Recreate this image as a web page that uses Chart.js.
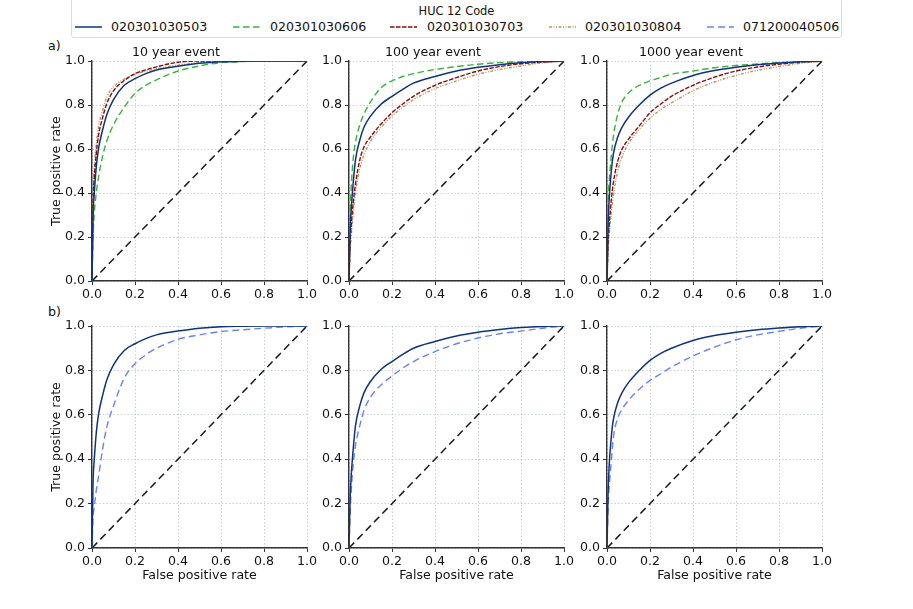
<!DOCTYPE html>
<html>
<head>
<meta charset="utf-8">
<script src="https://cdn.jsdelivr.net/npm/chart.js@4.4.1/dist/chart.umd.min.js"></script>
<style>
  html, body { margin: 0; padding: 0; background: #fff; }
  body { width: 913px; height: 609px; position: relative; overflow: hidden; font-family: "DejaVu Sans", sans-serif; color: #111; }
  canvas { position: absolute; }
  .lbl { position: absolute; font-size: 12.6px; white-space: nowrap; line-height: 1; }
  #legend { position: absolute; left: 71px; top: -2px; width: 771px; height: 40px; border: 1px solid #dcdcdc; border-radius: 3px; box-sizing: border-box; }
  .sample { position: absolute; }
</style>
</head>
<body>
<div id="legend"></div>
<div class="lbl" style="left:48px;top:40px;">a)</div>
<div class="lbl" style="left:48px;top:306px;">b)</div>

<canvas id="c0"></canvas><canvas id="c1"></canvas><canvas id="c2"></canvas>
<canvas id="c3"></canvas><canvas id="c4"></canvas><canvas id="c5"></canvas>

<script>
// ---------- data ----------
const fprGrid = [0, 0.005, 0.01, 0.02, 0.03, 0.05, 0.07, 0.1, 0.15, 0.2, 0.25, 0.3, 0.4, 0.5, 0.6, 0.7, 0.8, 0.9, 1.0];
const chanceLine = [0, 1];

const hucCodes = ["020301030503", "020301030606", "020301030703", "020301030804", "071200040506"];
const events = ["10 year event", "100 year event", "1000 year event"];
const tickValues = [0, 0.2, 0.4, 0.6, 0.8, 1.0];

// 10 year event
const tpr10_503 = [0, 0.30, 0.39, 0.52, 0.60, 0.69, 0.76, 0.825, 0.89, 0.92, 0.943, 0.96, 0.977, 0.99, 0.997, 0.999, 1, 1, 1];
const tpr10_606 = [0, 0.20, 0.30, 0.40, 0.47, 0.57, 0.64, 0.71, 0.79, 0.853, 0.89, 0.915, 0.955, 0.978, 0.993, 0.998, 1, 1, 1];
const tpr10_703 = [0, 0.35, 0.46, 0.58, 0.66, 0.745, 0.81, 0.865, 0.912, 0.943, 0.96, 0.974, 0.995, 1, 1, 1, 1, 1, 1];
const tpr10_804 = [0, 0.38, 0.50, 0.62, 0.70, 0.777, 0.84, 0.883, 0.918, 0.94, 0.955, 0.965, 0.982, 0.993, 0.998, 1, 1, 1, 1];
const tpr10_506 = [0, 0.14, 0.18, 0.26, 0.32, 0.45, 0.55, 0.64, 0.765, 0.83, 0.87, 0.90, 0.94, 0.96, 0.975, 0.983, 0.99, 0.996, 1];

// 100 year event
const tpr100_503 = [0, 0.22, 0.32, 0.45, 0.55, 0.64, 0.70, 0.75, 0.805, 0.84, 0.872, 0.90, 0.93, 0.955, 0.972, 0.984, 0.993, 0.998, 1];
const tpr100_606 = [0, 0.30, 0.42, 0.56, 0.63, 0.71, 0.76, 0.815, 0.88, 0.91, 0.93, 0.943, 0.962, 0.975, 0.986, 0.993, 0.997, 0.999, 1];
const tpr100_703 = [0, 0.17, 0.25, 0.36, 0.44, 0.55, 0.61, 0.655, 0.715, 0.765, 0.805, 0.84, 0.89, 0.925, 0.955, 0.975, 0.988, 0.996, 1];
const tpr100_804 = [0, 0.13, 0.20, 0.31, 0.40, 0.51, 0.575, 0.635, 0.70, 0.75, 0.79, 0.825, 0.875, 0.91, 0.94, 0.962, 0.978, 0.992, 1];
const tpr100_506 = [0, 0.15, 0.25, 0.38, 0.46, 0.55, 0.62, 0.68, 0.735, 0.775, 0.81, 0.84, 0.885, 0.92, 0.946, 0.965, 0.977, 0.99, 1];

// 1000 year event
const tpr1000_503 = [0, 0.25, 0.37, 0.50, 0.58, 0.655, 0.70, 0.745, 0.80, 0.845, 0.877, 0.90, 0.935, 0.957, 0.972, 0.983, 0.991, 0.997, 1];
const tpr1000_606 = [0, 0.35, 0.45, 0.57, 0.66, 0.76, 0.815, 0.855, 0.89, 0.91, 0.925, 0.94, 0.955, 0.97, 0.98, 0.987, 0.993, 0.997, 1];
const tpr1000_703 = [0, 0.17, 0.25, 0.37, 0.45, 0.545, 0.60, 0.645, 0.705, 0.765, 0.805, 0.84, 0.89, 0.927, 0.955, 0.973, 0.986, 0.995, 1];
const tpr1000_804 = [0, 0.14, 0.21, 0.31, 0.39, 0.50, 0.565, 0.625, 0.69, 0.74, 0.78, 0.81, 0.865, 0.905, 0.935, 0.958, 0.975, 0.99, 1];
const tpr1000_506 = [0, 0.18, 0.27, 0.39, 0.50, 0.585, 0.625, 0.665, 0.715, 0.755, 0.785, 0.815, 0.865, 0.905, 0.938, 0.96, 0.976, 0.99, 1];

// ---------- styles ----------
const seriesStyle = {
  "020301030503": { color: "#10337f", dash: [], width: 1.5 },
  "020301030606": { color: "#3cb23c", dash: [6.5, 3.5], width: 1.4 },
  "020301030703": { color: "#8b0d0d", dash: [4.5, 1.5], width: 1.4 },
  "020301030804": { color: "#b39a60", dash: [3, 1.5, 1, 1.5, 1, 1.5], width: 1.4 },
  "071200040506": { color: "#6a82f5", dash: [7, 4], width: 1.4 }
};

const FONT = { family: "'DejaVu Sans', sans-serif", size: 12.6 };

// ---------- legend (HTML) ----------
(function buildLegend() {
  const lg = document.getElementById('legend');
  const t = document.createElement('div');
  t.className = 'lbl';
  t.style.cssText = 'font-size:11.4px;left:0;width:100%;text-align:center;top:7px;';
  t.textContent = 'HUC 12 Code';
  lg.appendChild(t);
  const sampleX = [3, 161, 318, 477, 635];
  const labelX = [39, 198, 355, 513, 671];
  hucCodes.forEach((code, i) => {
    const st = seriesStyle[code];
    const svg = document.createElementNS('http://www.w3.org/2000/svg', 'svg');
    svg.setAttribute('class', 'sample');
    svg.setAttribute('width', '27'); svg.setAttribute('height', '6');
    svg.style.left = sampleX[i] + 'px'; svg.style.top = '25px';
    const ln = document.createElementNS('http://www.w3.org/2000/svg', 'line');
    ln.setAttribute('x1', '0'); ln.setAttribute('x2', '27');
    ln.setAttribute('y1', '3'); ln.setAttribute('y2', '3');
    ln.setAttribute('stroke', st.color);
    ln.setAttribute('stroke-width', st.width);
    if (st.dash.length) ln.setAttribute('stroke-dasharray', st.dash.join(' '));
    svg.appendChild(ln);
    lg.appendChild(svg);
    const l = document.createElement('div');
    l.className = 'lbl';
    l.style.left = labelX[i] + 'px'; l.style.top = '22px';
    l.textContent = code;
    lg.appendChild(l);
  });
})();

// ---------- charts ----------
function pts(xs, ys) { return xs.map((x, i) => ({ x: x, y: ys[i] })); }

function rocDataset(code, tpr) {
  const st = seriesStyle[code];
  return {
    label: code,
    data: pts(fprGrid, tpr),
    borderColor: st.color,
    borderWidth: st.width,
    borderDash: st.dash,
    pointRadius: 0,
    fill: false,
    cubicInterpolationMode: 'monotone'
  };
}

function chanceDataset() {
  return {
    label: 'chance',
    data: pts(chanceLine, chanceLine),
    borderColor: '#1a1a1a',
    borderWidth: 1.5,
    borderDash: [7.5, 4.5],
    pointRadius: 0,
    fill: false
  };
}

const colLeft = [45, 302, 560];
const CW = 276, YAXW = 47, PADR = 14;
const rowGeom = [
  { top: 41, height: 263, xAxisH: 23, padTop: 0 },
  { top: 314, height: 273, xAxisH: 39, padTop: 12 }
];

const panels = [
  { row: 0, col: 0, title: events[0], sets: [["020301030503", tpr10_503], ["020301030606", tpr10_606], ["020301030703", tpr10_703], ["020301030804", tpr10_804]] },
  { row: 0, col: 1, title: events[1], sets: [["020301030503", tpr100_503], ["020301030606", tpr100_606], ["020301030703", tpr100_703], ["020301030804", tpr100_804]] },
  { row: 0, col: 2, title: events[2], sets: [["020301030503", tpr1000_503], ["020301030606", tpr1000_606], ["020301030703", tpr1000_703], ["020301030804", tpr1000_804]] },
  { row: 1, col: 0, title: null, sets: [["020301030503", tpr10_503], ["071200040506", tpr10_506]] },
  { row: 1, col: 1, title: null, sets: [["020301030503", tpr100_503], ["071200040506", tpr100_506]] },
  { row: 1, col: 2, title: null, sets: [["020301030503", tpr1000_503], ["071200040506", tpr1000_506]] }
];

function axisCommon() {
  return {
    type: 'linear',
    min: 0, max: 1,
    afterBuildTicks: (s) => { s.ticks = tickValues.map(v => ({ value: v })); },
    grid: {
      color: '#b9c3c3',
      lineWidth: 0.8,
      drawTicks: true,
      tickLength: 4,
      tickColor: '#333',
      tickWidth: 1,
      tickBorderDash: []
    },
    border: { display: true, color: '#333', width: 1.4, dash: [1.5, 2] },
    ticks: {
      color: '#111',
      font: FONT,
      callback: (v) => Number(v).toFixed(1)
    }
  };
}

panels.forEach((p, idx) => {
  const g = rowGeom[p.row];
  const cv = document.getElementById('c' + idx);
  cv.width = CW; cv.height = g.height;
  cv.style.width = CW + 'px'; cv.style.height = g.height + 'px';
  cv.style.left = colLeft[p.col] + 'px'; cv.style.top = g.top + 'px';

  const xs = axisCommon();
  xs.ticks.padding = 2;
  xs.afterFit = (s) => { s.height = g.xAxisH; };
  xs.title = {
    display: p.row === 1,
    text: 'False positive rate',
    color: '#111',
    font: FONT,
    padding: { top: 0, bottom: 4 }
  };
  const ys = axisCommon();
  ys.ticks.padding = 3;
  ys.afterFit = (s) => { s.width = YAXW; };
  ys.title = {
    display: p.col === 0,
    text: 'True positive rate',
    color: '#111',
    font: FONT,
    padding: { top: 4, bottom: 0 }
  };

  const datasets = p.sets.map(([code, tpr]) => rocDataset(code, tpr));
  datasets.push(chanceDataset());

  new Chart(cv, {
    type: 'line',
    data: { datasets: datasets },
    options: {
      responsive: false,
      animation: false,
      devicePixelRatio: 1,
      layout: { padding: { left: 0, right: PADR, top: g.padTop, bottom: 0 } },
      plugins: {
        legend: { display: false },
        tooltip: { enabled: false },
        title: {
          display: !!p.title,
          text: p.title || '',
          color: '#111',
          font: { family: FONT.family, size: 12.6, weight: 'normal' },
          padding: { top: 4, bottom: 1 }
        }
      },
      scales: { x: xs, y: ys }
    }
  });
});
</script>
</body>
</html>
